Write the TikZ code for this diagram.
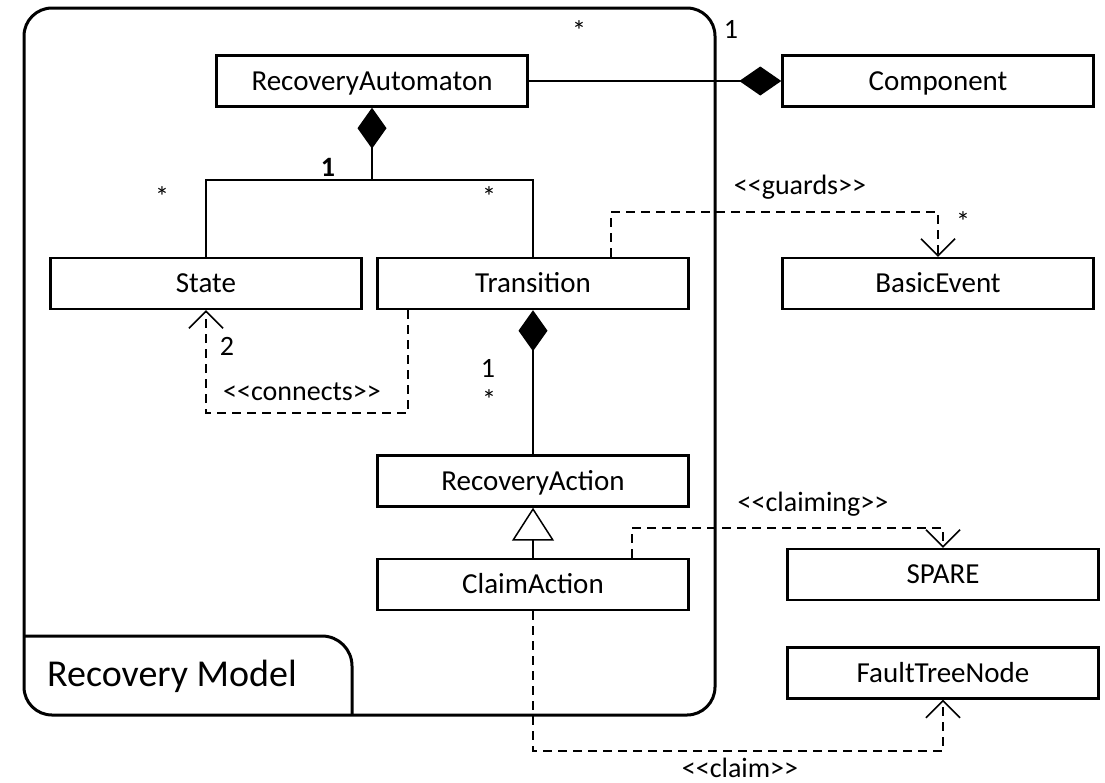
\documentclass[tikz,border=0pt]{standalone}
\usepackage{fontspec}
\setmainfont{Carlito}
\usetikzlibrary{arrows.meta}
\begin{document}
\begin{tikzpicture}[x=1pt,y=-1pt,
  cls/.style={draw, line width=2.4pt, minimum width=311pt, minimum height=51pt,
    inner sep=0pt, font=\fontsize{29}{34}\selectfont, text height=18.5pt, text depth=0pt},
  assoc/.style={line width=1.5pt},
  dep/.style={line width=1.5pt, dash pattern=on 9pt off 6pt,
    -{Straight Barb[length=17pt,width=34pt,line width=1.5pt]}},
  lbl/.style={anchor=base, inner sep=0pt, font=\fontsize{28}{34}\selectfont},
  compo/.style={Diamond[length=41pt,width=29pt]},
]
\useasboundingbox (0,0) rectangle (1105,782);

% package frame with its name tab
\draw[line width=3pt, rounded corners=28pt] (24,8) rectangle (715,715);
\draw[line width=3pt, rounded corners=30pt] (24,636) -- (352,636) -- (352,715);
\node[anchor=base west, inner sep=0pt, font=\fontsize{38}{44}\selectfont] (pkg) at (47,686) {Recovery Model};

% classes
\node[cls] (ra)    at (372,81)    {RecoveryAutomaton};
\node[cls] (comp)  at (938,81)    {Component};
\node[cls] (state) at (206,283.5) {State};
\node[cls] (trans) at (533,283.5) {Transition};
\node[cls] (be)    at (938,283.5) {BasicEvent};
\node[cls] (ract)  at (533,481)   {RecoveryAction};
\node[cls] (claim) at (533,584.5) {ClaimAction};
\node[cls] (spare) at (943,574.5) {SPARE};
\node[cls] (ftn)   at (943,673)   {FaultTreeNode};

% helper rows for the bent connectors
\coordinate (jy) at (0,180);
\coordinate (gy) at (0,212);
\coordinate (cy) at (0,413);
\coordinate (my) at (0,528);
\coordinate (ly) at (0,751);

% compositions
\draw[assoc, -{Diamond[length=42pt,width=29pt]}] (ra.east) -- (comp.west);
\draw[assoc, {Diamond[length=41pt,width=29pt]}-] (ra.south) -- (ra.south |- jy);
\draw[assoc] (state.north) |- (trans.north |- jy) -- (trans.north);
\draw[assoc, {Diamond[length=41pt,width=29pt]}-] (trans.south) -- (ract.north);

% generalization
\draw[assoc, -{Triangle[open,length=33pt,width=42pt,fill=white]}] (claim.north) -- (ract.south);

% dependencies
\draw[dep] ([xshift=78pt]trans.north) |- (be.north |- gy) -- (be.north);
\draw[dep] ([xshift=-125pt]trans.south) |- (state.south |- cy) -- (state.south);
\draw[dep] ([xshift=99pt]claim.north) |- (spare.north |- my) -- (spare.north);
\draw[dep] (claim.south) |- (ftn.south |- ly) -- (ftn.south);

% multiplicities and stereotypes
\node[lbl] (m1) at (579,40)  {*};
\node[lbl] (m2) at (731,38)  {1};
\node[lbl, font=\fontsize{28}{34}\selectfont\bfseries] (m3) at (328,176) {1};
\node[lbl] (m4) at (162,206) {*};
\node[lbl] (m5) at (489,206) {*};
\node[lbl] (m6) at (963,231) {*};
\node[lbl] (m7) at (227,355) {2};
\node[lbl] (m8) at (488,377) {1};
\node[lbl] (m9) at (489,409) {*};
\node[lbl] (s1) at (800,194) {<{}<guards>{}>};
\node[lbl] (s2) at (302,400) {<{}<connects>{}>};
\node[lbl] (s3) at (813,511) {<{}<claiming>{}>};
\node[lbl] (s4) at (740,777) {<{}<claim>{}>};
\end{tikzpicture}
\end{document}
